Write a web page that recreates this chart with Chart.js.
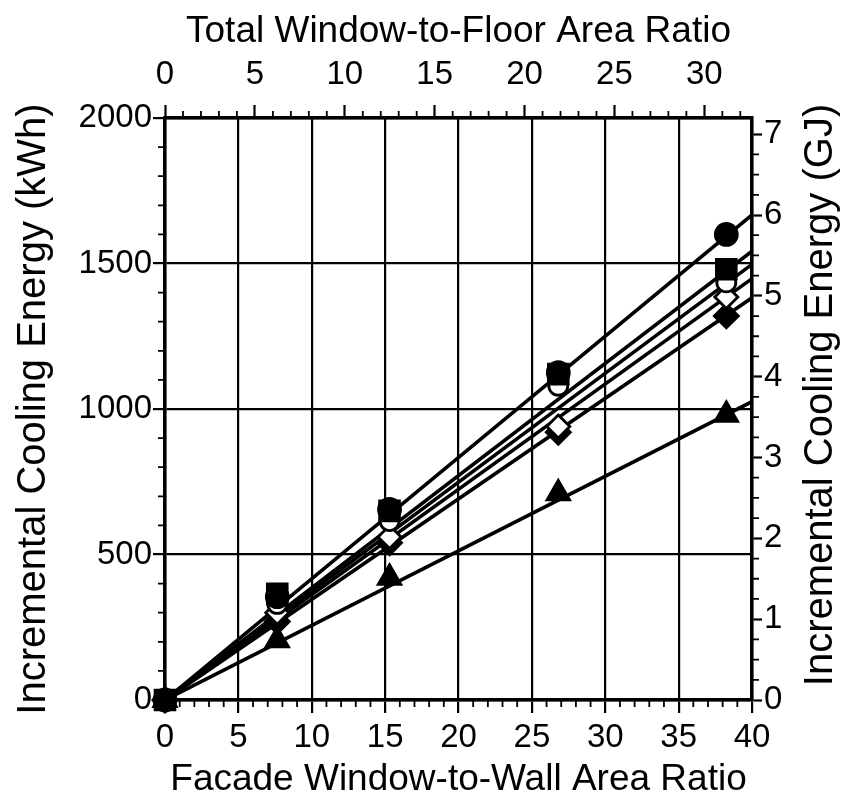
<!DOCTYPE html>
<html>
<head>
<meta charset="utf-8">
<script src="https://cdn.jsdelivr.net/npm/chart.js@4.4.1/dist/chart.umd.min.js"></script>
<style>
  html, body { margin: 0; padding: 0; background: #fff; }
  #wrap { width: 843px; height: 802px; }
</style>
</head>
<body>
<div id="wrap"><canvas id="c" width="843" height="802"></canvas></div>
<script>
// ---- data ----
const wwr = [0, 7.65, 15.3, 26.8, 38.25];            // facade window-to-wall area ratio
const filledCircle  = [0, 355, 655, 1125, 1600];     // kWh
const filledSquare  = [0, 365, 650, 1120, 1480];
const openCircle    = [0, 330, 615, 1080, 1435];
const openDiamond   = [0, 300, 560, 940, 1385];
const filledDiamond = [0, 270, 540, 920, 1320];
const filledTriangle= [0, 205, 420, 710, 980];
// fitted lines: value at x = 0 and x = 40
const lineX = [0, 40];
const lineCircle   = [0, 1667];
const lineSquare   = [0, 1542];
const lineOpenCirc = [0, 1497];
const lineOpenDiam = [0, 1448];
const lineFillDiam = [0, 1382];
const lineTriangle = [0, 1025];
// tick labels
const bottomTicks = [0, 5, 10, 15, 20, 25, 30, 35, 40];
const topTicks = [0, 5, 10, 15, 20, 25, 30];
const leftTicks = [0, 500, 1000, 1500, 2000];
const rightTicks = [0, 1, 2, 3, 4, 5, 6, 7];

const FONT = "'Liberation Sans', Arial, Helvetica, sans-serif";
const TICK_FONT = { family: FONT, size: 33 };
const TITLE_FONT_H = { family: FONT, size: 37 };
const TITLE_FONT_V = { family: FONT, size: 40 };

function pts(xs, ys) { return xs.map((x, i) => ({ x: x, y: ys[i] })); }

function markerSet(data, style, fill, radius) {
  return {
    type: 'line', data: pts(wwr, data), showLine: false,
    pointStyle: style, pointRadius: radius, pointHoverRadius: radius,
    pointBackgroundColor: fill, pointBorderColor: '#000', pointBorderWidth: 2.8,
    clip: false, order: 0
  };
}
function lineSet(data) {
  return {
    type: 'line', data: pts(lineX, data), borderColor: '#000', borderWidth: 3.6,
    pointRadius: 0, pointHoverRadius: 0, fill: false, tension: 0, order: 1
  };
}
const plain = v => String(v);

// minor ticks drawn at positions given by the chart's own scales
const minorTicks = {
  id: 'minorTicks',
  afterDraw(chart) {
    const ctx = chart.ctx, a = chart.chartArea;
    ctx.save();
    ctx.strokeStyle = '#000';
    ctx.lineWidth = 1.8;
    const L = 7;
    const xs = chart.scales.x, xt = chart.scales.xTop, yl = chart.scales.y, yr = chart.scales.yRight;
    ctx.beginPath();
    for (let v = 0; v <= 40; v += 1) {
      if (v % 5 === 0) continue;
      const p = xs.getPixelForValue(v);
      ctx.moveTo(p, a.bottom); ctx.lineTo(p, a.bottom + L);
    }
    for (let v = 0; v <= 32; v += 1) {
      if (v % 5 === 0) continue;
      const p = xt.getPixelForValue(v);
      ctx.moveTo(p, a.top); ctx.lineTo(p, a.top - L);
    }
    for (let v = 0; v <= 2000; v += 100) {
      if (v % 500 === 0) continue;
      const p = yl.getPixelForValue(v);
      ctx.moveTo(a.left, p); ctx.lineTo(a.left - L, p);
    }
    for (let v = 0; v <= 7.2; v += 0.25) {
      if (Math.abs(v - Math.round(v)) < 1e-6) continue;
      const p = yr.getPixelForValue(v);
      ctx.moveTo(a.right, p); ctx.lineTo(a.right + L, p);
    }
    ctx.stroke();
    // right axis title, reading bottom to top
    ctx.fillStyle = '#000';
    ctx.font = TITLE_FONT_V.size + 'px ' + FONT;
    ctx.textAlign = 'center';
    ctx.textBaseline = 'middle';
    ctx.translate(821, (a.top + a.bottom) / 2 - 14);
    ctx.rotate(-Math.PI / 2);
    ctx.fillText('Incremental Cooling Energy (GJ)', 0, 0);
    ctx.restore();
  }
};

new Chart(document.getElementById('c'), {
  type: 'line',
  data: {
    datasets: [
      markerSet(filledSquare, 'rect', '#000', 14),
      markerSet(filledCircle, 'circle', '#000', 11),
      markerSet(openCircle, 'circle', '#fff', 9.5),
      markerSet(openDiamond, 'rectRot', '#fff', 11.5),
      markerSet(filledDiamond, 'rectRot', '#000', 12),
      markerSet(filledTriangle, 'triangle', '#000', 13)
    ].concat([lineCircle, lineSquare, lineOpenCirc, lineOpenDiam, lineFillDiam, lineTriangle].map(lineSet))
  },
  options: {
    responsive: false,
    animation: false,
    events: [],
    layout: { padding: 0 },
    plugins: { legend: { display: false }, tooltip: { enabled: false } },
    scales: {
      x: {
        type: 'linear', position: 'bottom', min: 0, max: 40,
        afterBuildTicks(s) { s.ticks = bottomTicks.map(v => ({ value: v })); },
        afterFit(s) { s.height = 102; },
        ticks: { font: TICK_FONT, color: '#000', padding: 5, maxRotation: 0, autoSkip: false, callback: plain },
        grid: { color: '#000', lineWidth: 2.2, tickLength: 13, tickWidth: 2.2 },
        border: { color: '#000', width: 3.5 },
        title: { display: true, text: 'Facade Window-to-Wall Area Ratio', font: TITLE_FONT_H, color: '#000', padding: { top: 0, bottom: 0 } }
      },
      xTop: {
        type: 'linear', position: 'top', min: 0, max: 32.65,
        afterBuildTicks(s) { s.ticks = topTicks.map(v => ({ value: v })); },
        afterFit(s) { s.height = 118; },
        ticks: { font: TICK_FONT, color: '#000', padding: 10, maxRotation: 0, autoSkip: false, callback: plain },
        grid: { drawOnChartArea: false, color: '#000', tickLength: 13, tickWidth: 2.2 },
        border: { color: '#000', width: 3.5 },
        title: { display: true, text: 'Total Window-to-Floor Area Ratio', font: TITLE_FONT_H, color: '#000', padding: { top: 10, bottom: 0 } }
      },
      y: {
        type: 'linear', position: 'left', min: 0, max: 2000,
        afterBuildTicks(s) { s.ticks = leftTicks.map(v => ({ value: v })); },
        afterFit(s) { s.width = 165; },
        ticks: { font: TICK_FONT, color: '#000', padding: 1, autoSkip: false, callback: plain },
        grid: { color: '#000', lineWidth: 2.2, tickLength: 12, tickWidth: 2.2 },
        border: { color: '#000', width: 3.5 },
        title: { display: true, text: 'Incremental Cooling Energy (kWh)', font: TITLE_FONT_V, color: '#000', padding: { top: 10, bottom: 0 } }
      },
      yRight: {
        type: 'linear', position: 'right', min: 0, max: 7.2,
        afterBuildTicks(s) { s.ticks = rightTicks.map(v => ({ value: v })); },
        afterFit(s) { s.width = 91; },
        ticks: { font: TICK_FONT, color: '#000', padding: 2, autoSkip: false, callback: plain },
        grid: { drawOnChartArea: false, color: '#000', tickLength: 10, tickWidth: 2.2 },
        border: { color: '#000', width: 3.5 }
      }
    }
  },
  plugins: [minorTicks]
});
</script>
</body>
</html>
